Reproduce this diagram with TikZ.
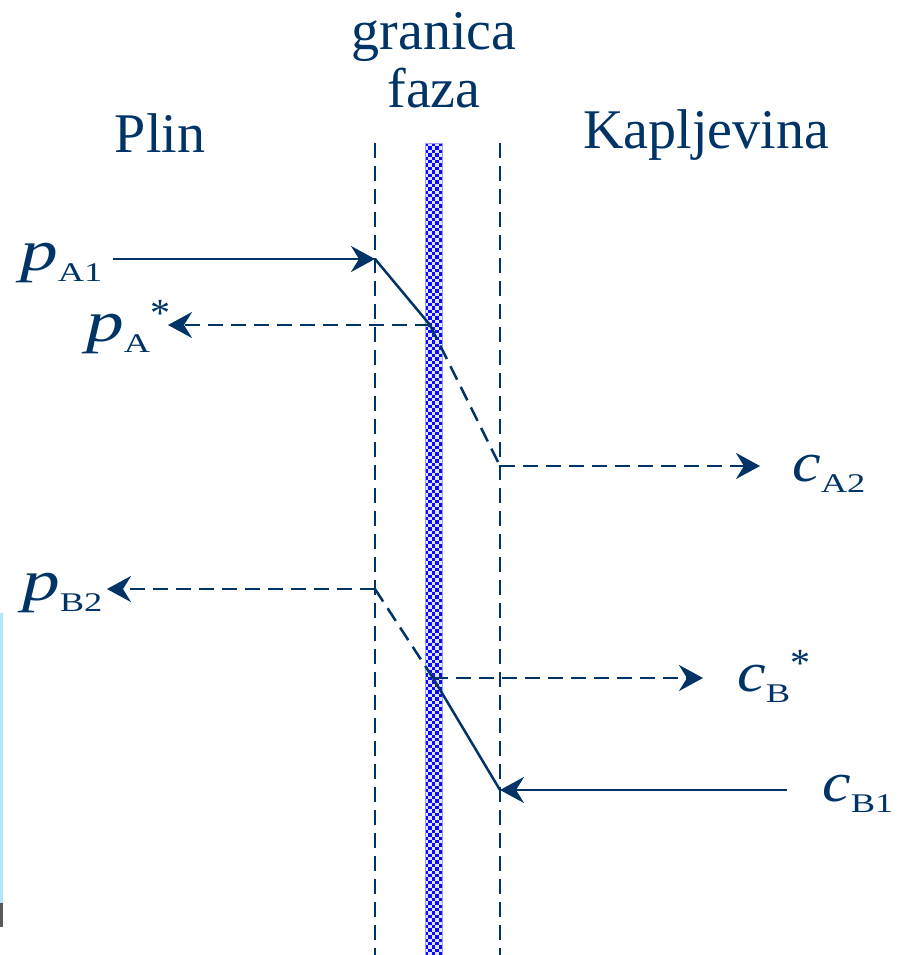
\documentclass[tikz,border=0pt]{standalone}
\usepackage{fontspec}
\setmainfont{Liberation Serif}
\usetikzlibrary{arrows.meta}
\definecolor{navy}{RGB}{0,51,102}
\definecolor{checkblue}{RGB}{10,10,255}
\definecolor{checklight}{RGB}{225,228,255}
\newcommand{\myP}{\scalebox{1.3}[1]{\fontsize{58}{58}\selectfont\itshape p}}
\newcommand{\myC}{\scalebox{1.15}[1]{\fontsize{56}{56}\selectfont\itshape c}}
\newcommand{\mysub}[1]{\raisebox{-11pt}{\scalebox{1.35}[1]{\fontsize{27}{27}\selectfont #1}}}
\newcommand{\mystar}{\raisebox{15pt}{\fontsize{40}{40}\selectfont *}}
\begin{document}
\begin{tikzpicture}[x=1pt,y=-1pt,
  ln/.style={navy,line width=2.5pt},
  dsh/.style={ln,dash pattern=on 15pt off 8pt},
  tip/.style={-{Stealth[length=24pt,width=26pt,inset=8pt]}},
  title/.style={text=navy,font=\fontsize{56}{56}\selectfont,inner sep=0pt},
  lab/.style={text=navy,inner sep=0pt,anchor=base west}]
\useasboundingbox (0,0) rectangle (899,955);
% edge artifacts
\fill[cyan!30] (0,613) rectangle (3,903);
\fill[black!65] (0,903) rectangle (3,927);
% interface bar (checkerboard)
\fill[checklight] (425,143) rectangle (442,955);
\foreach \r in {0,2,...,238} {
  \foreach \c in {0,2,4} {\fill[checkblue] ({425+\c*3.4},{143+\r*3.4}) rectangle ++(3.4,3.4);}
}
\foreach \r in {1,3,...,237} {
  \foreach \c in {1,3} {\fill[checkblue] ({425+\c*3.4},{143+\r*3.4}) rectangle ++(3.4,3.4);}
}
\draw[checkblue!40,line width=0.8pt] (425,143) rectangle (442,955);
% film boundaries
\draw[dsh] (375,143) -- (375,955);
\draw[dsh] (500,143) -- (500,955);
% titles
\node[title,anchor=base] (gr) at (434,50) {granica};
\node[title,anchor=base] (fz) at (434,108) {faza};
\node[title,anchor=base] (plin) at (160,152) {Plin};
\node[title,anchor=base west] (kap) at (583,148) {Kapljevina};
% labels
\node[lab] (pA1) at (20,270) {\myP\mysub{A1}};
\node[lab] (pAs) at (86,341) {\myP\mysub{A}\mystar};
\node[lab] (cA2) at (792,481) {\myC\mysub{A2}};
\node[lab] (pB2) at (22,600) {\myP\mysub{B2}};
\node[lab] (cBs) at (737,691) {\myC\mysub{B}\mystar};
\node[lab] (cB1) at (822,801) {\myC\mysub{B1}};
% profile points
\coordinate (a1) at (375,259);
\coordinate (as) at (430,325);
\coordinate (a2) at (500,466);
\coordinate (b2) at (375,589);
\coordinate (bs) at (433,678);
\coordinate (b1) at (500,790);
% free ends
\coordinate (pA1e) at (113,259);
\coordinate (pAse) at (168,325);
\coordinate (cA2e) at (760,466);
\coordinate (pB2e) at (107,589);
\coordinate (cBse) at (703,678);
\coordinate (cB1e) at (787,790);
% component A
\draw[ln,tip] (pA1e) -- (a1);
\draw[ln] (a1) -- (as);
\draw[dsh,tip] (as) -- (pAse);
\draw[dsh] (as) -- (a2);
\draw[dsh,tip] (a2) -- (cA2e);
% component B
\draw[dsh,tip] (b2) -- (pB2e);
\draw[dsh] (b2) -- (bs);
\draw[dsh,tip] (bs) -- (cBse);
\draw[ln] (bs) -- (b1);
\draw[ln,tip] (cB1e) -- (b1);
\end{tikzpicture}
\end{document}
